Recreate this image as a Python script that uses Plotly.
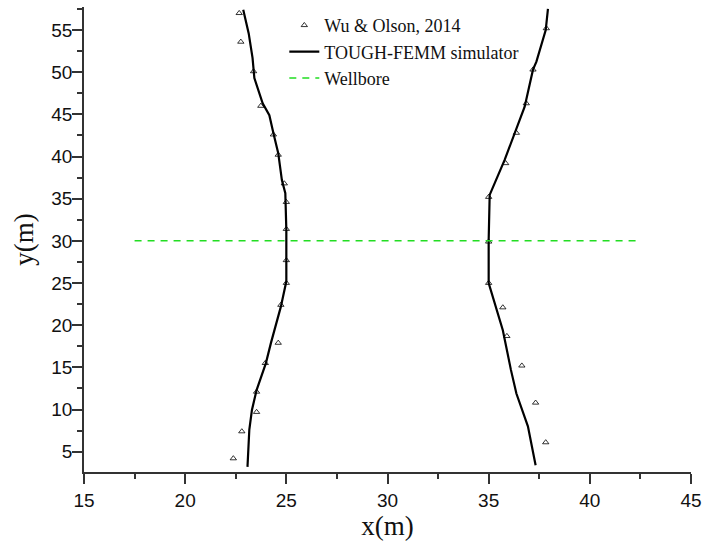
import plotly.graph_objects as go

# Wu & Olson, 2014 (markers)
wu_left_x = [22.38, 22.8, 23.53, 23.53, 23.96, 24.6, 24.73, 25.0, 25.0, 25.0, 25.0, 24.9, 24.6, 24.36, 23.74, 23.38, 22.75, 22.67]
wu_left_y = [4.2, 7.4, 9.7, 12.1, 15.5, 17.9, 22.4, 25.0, 27.7, 31.4, 34.6, 36.8, 40.2, 42.6, 46.0, 50.1, 53.6, 57.0]
wu_right_x = [37.82, 37.32, 36.64, 35.9, 35.7, 35.0, 35.0, 35.0, 35.84, 36.37, 36.86, 37.19, 37.85]
wu_right_y = [6.1, 10.8, 15.2, 18.7, 22.1, 25.0, 29.9, 35.2, 39.2, 42.8, 46.3, 50.3, 55.2]

# TOUGH-FEMM simulator (lines)
sim_left_x = [23.08, 23.17, 23.30, 23.53, 23.99, 24.24, 24.73, 25.0, 25.0, 24.95, 24.78, 24.6, 24.36, 24.16, 23.83, 23.42, 23.33, 23.14, 22.87]
sim_left_y = [3.2, 7.6, 9.95, 12.3, 15.5, 17.9, 22.2, 25.2, 31.3, 35.65, 37.2, 40.4, 42.8, 44.9, 46.3, 49.3, 51.7, 54.6, 57.4]
sim_right_x = [37.32, 36.94, 36.37, 36.1, 35.7, 35.2, 35.0, 35.0, 35.05, 35.79, 36.29, 36.78, 37.19, 37.36, 37.82, 37.93]
sim_right_y = [3.4, 8.0, 11.9, 14.7, 19.4, 23.4, 25.0, 30.1, 35.45, 39.6, 42.8, 45.9, 50.3, 51.25, 55.0, 57.5]

# Wellbore
well_x = [17.5, 42.5]
well_y = [30.0, 30.0]

marker_style = dict(symbol="triangle-up-open", size=5.5, color="black", line=dict(width=0.8, color="black"))

fig = go.Figure()
fig.add_trace(go.Scatter(x=wu_left_x, y=wu_left_y, mode="markers", name="Wu & Olson, 2014",
                         legendgroup="wu", marker=marker_style))
fig.add_trace(go.Scatter(x=wu_right_x, y=wu_right_y, mode="markers", name="Wu & Olson, 2014",
                         legendgroup="wu", showlegend=False, marker=marker_style))
fig.add_trace(go.Scatter(x=sim_left_x, y=sim_left_y, mode="lines", name="TOUGH-FEMM simulator",
                         legendgroup="sim", line=dict(color="black", width=2.2)))
fig.add_trace(go.Scatter(x=sim_right_x, y=sim_right_y, mode="lines", name="TOUGH-FEMM simulator",
                         legendgroup="sim", showlegend=False, line=dict(color="black", width=2.2)))
fig.add_trace(go.Scatter(x=well_x, y=well_y, mode="lines", name="Wellbore",
                         line=dict(color="#22dd22", width=1.5, dash="7px,6px")))

axis_common = dict(
    showline=True, linecolor="#333", linewidth=1.5, showgrid=False, zeroline=False,
    ticks="outside", ticklen=10, tickwidth=1.5, tickcolor="#333",
    tickfont=dict(family="Liberation Sans, Arial", size=19, color="#111"),
    mirror=False, automargin=False,
)

fig.update_layout(
    width=702, height=546,
    margin=dict(l=84, r=11, t=7, b=74, autoexpand=False),
    paper_bgcolor="white", plot_bgcolor="white",
    showlegend=True,
    legend=dict(x=0.33, y=1.0, xanchor="left", yanchor="top",
                bgcolor="rgba(0,0,0,0)", borderwidth=0,
                font=dict(family="Liberation Serif, Times New Roman", size=18, color="#111"),
                tracegroupgap=0, itemwidth=30),
    xaxis=dict(range=[15, 45], tick0=15, dtick=5,
               minor=dict(ticks="outside", ticklen=5, dtick=2.5, tick0=15, tickcolor="#333", tickwidth=1.5),
               title=dict(text="x(m)", font=dict(family="Liberation Serif, Times New Roman", size=27, color="#111"), standoff=4),
               **axis_common),
    yaxis=dict(range=[2.59, 57.73], tick0=5, dtick=5, ticklabelstandoff=-4,
               minor=dict(ticks="outside", ticklen=5, dtick=2.5, tick0=5, tickcolor="#333", tickwidth=1.5),
               title=dict(text="y(m)", font=dict(family="Liberation Serif, Times New Roman", size=27, color="#111"), standoff=10),
               **axis_common),
)

fig.write_html("out.html", config={"displayModeBar": False},
               post_script="document.body.style.margin='0';")
